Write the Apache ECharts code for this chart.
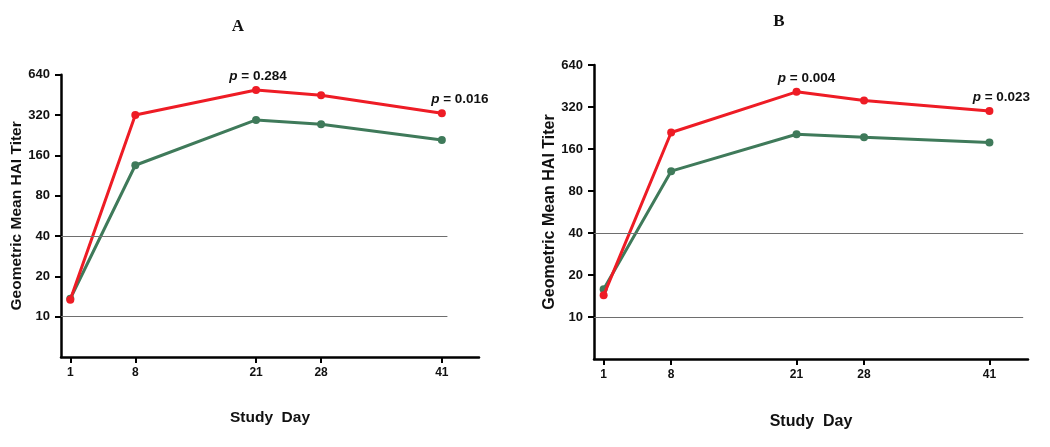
<!DOCTYPE html>
<html>
<head>
<meta charset="utf-8">
<script src="https://cdn.jsdelivr.net/npm/echarts@6/dist/echarts.min.js"></script>
<style>
html,body{margin:0;padding:0;background:#fff;}
#chart{width:1050px;height:447px;}
</style>
</head>
<body>
<div id="chart"></div>
<script>
// ---- data ----
const days = [1, 8, 21, 28, 41];
const redA = [13.4, 320, 492, 449, 330];
const greenA = [13.6, 135, 294, 273, 208];
const redB = [14.3, 210, 411, 356, 300];
const greenB = [15.8, 111, 204, 194, 178];
const yTickLabels = [10, 20, 40, 80, 160, 320, 640];
const refLines = [10, 40];
const pDaysA = [21, 41];
const pValsA = ['0.284', '0.016'];
const pDaysB = [21, 41];
const pValsB = ['0.004', '0.023'];
const panelTitles = ['A', 'B'];

const RED = '#EE1C25';
const GREEN = '#3F7A5A';
const FONT = 'Liberation Sans, Arial, sans-serif';

const t = v => Math.log2(v / 10);
const yTickT = yTickLabels.map(t);

function lineData(vals, pDays, pVals, offsets) {
  return days.map((d, i) => {
    const item = { value: [d, t(vals[i])] };
    const k = pDays ? pDays.indexOf(d) : -1;
    if (k >= 0) {
      item.label = {
        show: true, position: 'top', distance: 3, offset: [offsets[k], 0],
        formatter: '{i|p}{n| = ' + pVals[k] + '}',
        rich: {
          i: { fontStyle: 'italic', fontWeight: 'bold', fontSize: 13.5, fontFamily: FONT, color: '#111' },
          n: { fontWeight: 'bold', fontSize: 13.5, fontFamily: FONT, color: '#111' }
        }
      };
    }
    return item;
  });
}

function refLineSeries(idx, xEnd) {
  return {
    type: 'line', xAxisIndex: idx, yAxisIndex: idx, data: [], silent: true,
    markLine: {
      symbol: 'none', silent: true, label: { show: false },
      lineStyle: { color: '#6e6e6e', width: 1, type: 'solid' },
      data: refLines.map(r => [{ coord: [0, t(r)] }, { coord: [xEnd, t(r)] }])
    }
  };
}

function xAxis(idx, nameGap, fs) {
  return {
    type: 'value', gridIndex: idx, min: 0, max: 45,
    axisLine: { show: true, onZero: false, lineStyle: { color: '#000', width: 2.5 } },
    axisTick: { show: true, customValues: days, length: 6, lineStyle: { color: '#000', width: 2 } },
    axisLabel: { customValues: days, margin: 10, fontSize: 12, fontWeight: 'bold', fontFamily: FONT, color: '#111' },
    splitLine: { show: false },
    name: 'Study  Day', nameLocation: 'middle', nameGap: nameGap,
    nameTextStyle: { fontSize: fs, fontWeight: 'bold', fontFamily: FONT, color: '#111' }
  };
}

function yAxis(idx, nameGap, fs) {
  return {
    type: 'value', gridIndex: idx, min: -1, max: 6, interval: 1,
    axisLine: { show: true, onZero: false, lineStyle: { color: '#000', width: 2.5 } },
    axisTick: { show: true, customValues: yTickT, length: 6, lineStyle: { color: '#000', width: 2 } },
    axisLabel: {
      customValues: yTickT, margin: 11, fontSize: 13, fontWeight: 'bold', fontFamily: FONT, color: '#111',
      formatter: v => String(Math.round(10 * Math.pow(2, v)))
    },
    splitLine: { show: false },
    name: 'Geometric Mean HAI Titer', nameLocation: 'middle', nameGap: nameGap, nameRotate: 90,
    nameTextStyle: { fontSize: fs, fontWeight: 'bold', fontFamily: FONT, color: '#111' }
  };
}

function series(idx, vals, color, z, pDays, pVals, offsets) {
  return {
    type: 'line', xAxisIndex: idx, yAxisIndex: idx, z: z,
    data: lineData(vals, pDays, pVals, offsets),
    symbol: 'circle', symbolSize: 8,
    lineStyle: { color: color, width: 3 },
    itemStyle: { color: color },
    emphasis: { disabled: true }
  };
}

const chart = echarts.init(document.getElementById('chart'), null, { renderer: 'canvas' });
chart.setOption({
  backgroundColor: '#fff',
  animation: false,
  grid: [
    { left: 61, top: 74.7, width: 418, height: 282.3 },
    { left: 594, top: 65, width: 434, height: 294 }
  ],
  xAxis: [xAxis(0, 53, 15.5), xAxis(1, 55, 16)],
  yAxis: [yAxis(0, 35, 15.5), yAxis(1, 35, 16)],
  series: [
    refLineSeries(0, 41.6),
    refLineSeries(1, 44.5),
    series(0, greenA, GREEN, 3),
    series(0, redA, RED, 4, pDaysA, pValsA, [2, 18]),
    series(1, greenB, GREEN, 3),
    series(1, redB, RED, 4, pDaysB, pValsB, [10, 12])
  ],
  graphic: [
    { type: 'text', x: 238, y: 27, style: { text: panelTitles[0], fontSize: 17, fontWeight: 'bold', fontFamily: 'Liberation Serif, Times New Roman, serif', fill: '#111', align: 'center', verticalAlign: 'middle' } },
    { type: 'text', x: 779, y: 22, style: { text: panelTitles[1], fontSize: 17, fontWeight: 'bold', fontFamily: 'Liberation Serif, Times New Roman, serif', fill: '#111', align: 'center', verticalAlign: 'middle' } }
  ]
});
</script>
</body>
</html>
